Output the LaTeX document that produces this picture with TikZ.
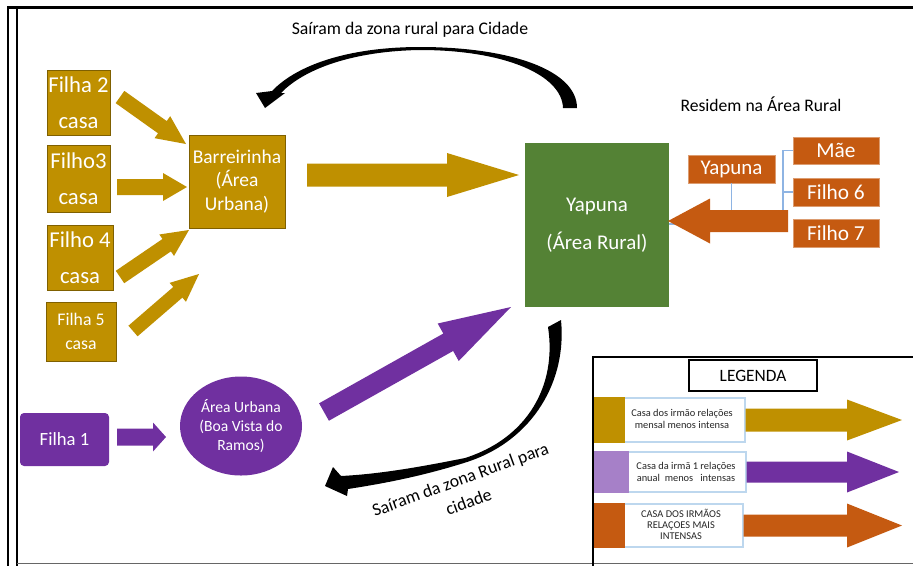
\documentclass[tikz,border=0pt]{standalone}
\usepackage{fontspec}
\setmainfont{Carlito}
\usetikzlibrary{calc,shapes.geometric}
\definecolor{gold}{HTML}{BF9000}
\definecolor{golddark}{HTML}{7F6000}
\definecolor{grn}{HTML}{548235}
\definecolor{org}{HTML}{C55A11}
\definecolor{purp}{HTML}{7030A0}
\definecolor{lpurp}{HTML}{A680C8}
\definecolor{lblue}{HTML}{8EB4E3}
\definecolor{lblue2}{HTML}{BDD7EE}
% fat block arrow: tail, tip, half shaft, half head, head length (px), colour
\newcommand{\fatarrow}[6]{%
  \path ($(#2)!#5*0.75pt!(#1)$) coordinate (hb);
  \fill[#6] ($(#1)!#3*0.75pt!90:(#2)$) -- ($(hb)!#3*0.75pt!90:(#2)$) -- ($(hb)!#4*0.75pt!90:(#2)$) -- (#2)
    -- ($(hb)!#4*0.75pt!-90:(#2)$) -- ($(hb)!#3*0.75pt!-90:(#2)$) -- ($(#1)!#3*0.75pt!-90:(#2)$) -- cycle;
}
\begin{document}
\begin{tikzpicture}[x=0.75pt,y=-0.75pt,
  sz/.style 2 args={minimum width=#1*0.75pt, minimum height=#2*0.75pt},
  goldbox/.style={draw=golddark, line width=0.6pt, fill=gold, text=white, inner sep=0pt, align=center},
  orgbox/.style={draw=org!60, line width=0.6pt, fill=org, text=white, inner sep=0pt, align=center},
  lgrow/.style={draw=lblue2, line width=0.8pt, fill=white, inner sep=0pt},
  lgtxt/.style={align=center, inner sep=0pt, font=\fontsize{7.8}{9}\selectfont, text=black!85},
  orgline/.style={draw=lblue, line width=0.8pt}
]
\useasboundingbox (0,0) rectangle (913,565);
\clip (0,0) rectangle (913,565);

% frame
\draw[line width=2pt] (7,7.5) -- (913,7.5);
\draw[line width=1.6pt] (8,6.5) -- (8,566);
\draw[line width=1.2pt] (17,7.5) -- (17,566);
\draw[line width=1.2pt, black!60] (17,563.5) -- (913,563.5);

% curved black arrows
\fill[black] (577,108) .. controls (577,70) and (510,47) .. (420,47) .. controls (355,47) and (300,62) .. (272,91)
  -- (256,93) -- (265,108) -- (285,93) -- (281,93) .. controls (305,68) and (355,51) .. (420,50)
  .. controls (505,50) and (562,75) .. (563,108) -- cycle;
\fill[black] (561,320) .. controls (567,380) and (534,440) .. (467,462) .. controls (420,477) and (380,484) .. (348,489)
  -- (347,496) -- (325,486) -- (333,467) -- (341,476) .. controls (380,474) and (420,467) .. (465,458)
  .. controls (528,438) and (557,385) .. (548,327) -- cycle;

% labels
\node[font=\fontsize{13.3}{16}\selectfont] (lbltop) at (410,30) {Saíram da zona rural para Cidade};
\node[font=\fontsize{13.2}{16}\selectfont] (lblres) at (761,104) {Residem na Área Rural};
\node[rotate=20, align=center, font=\fontsize{13.3}{18}\selectfont] (lblbot) at (464.5,490.5) {Saíram da zona Rural para\\cidade};

% gold boxes
\node[goldbox, sz={63}{65}, font=\fontsize{17}{27}\selectfont] (f2) at (78.5,102.5) {Filha 2\\casa};
\node[goldbox, sz={63}{67}, font=\fontsize{17}{27}\selectfont] (f3) at (78.5,178.5) {Filho3\\casa};
\node[goldbox, sz={66}{65}, font=\fontsize{17}{27}\selectfont] (f4) at (80,257.5) {Filho 4\\casa};
\node[goldbox, sz={70}{59}, font=\fontsize{13.3}{18}\selectfont] (f5) at (81,331.5) {Filha 5\\casa};
\node[goldbox, sz={96}{93}, font=\fontsize{14.6}{17.5}\selectfont] (barr) at (237,181.5) {Barreirinha\\(Área\\Urbana)};

% green
\node[fill=grn, text=white, inner sep=0pt, align=center, sz={144}{164}, font=\fontsize{15.7}{28.5}\selectfont] (yapg) at (597,225) {Yapuna\\(Área Rural)};

% orange org chart
\node[orgbox, sz={87}{28}, font=\fontsize{15.7}{18}\selectfont] (yapo) at (731.5,169) {Yapuna};
\node[orgbox, sz={86}{27}, font=\fontsize{16}{18}\selectfont] (mae) at (836,150.5) {Mãe};
\node[orgbox, sz={86}{28}, font=\fontsize{16}{18}\selectfont] (f6) at (836,192) {Filho 6};
\node[orgbox, sz={86}{28}, font=\fontsize{16}{18}\selectfont] (f7) at (836,233) {Filho 7};
\coordinate (bus) at (783,224);
\draw[orgline] (yapo.south) -- (yapo.south |- bus);
\draw[orgline] (yapg.east |- bus) -- (bus);
\draw[orgline] (bus) |- (mae.west);
\draw[orgline] (bus |- f6.west) -- (f6.west);

% purple
\node[fill=purp, rounded corners=3pt, text=white, inner sep=0pt, sz={89}{53}, font=\fontsize{14}{17}\selectfont] (fil1) at (64.5,439.5) {Filha 1};
\node[ellipse, fill=purp, text=white, inner sep=0pt, align=center, sz={122}{99}, font=\fontsize{11.7}{14.3}\selectfont] (ell) at (241,426) {Área Urbana\\(Boa Vista do\\Ramos)};

% arrows
\coordinate (g1a) at (120,97);  \coordinate (g1b) at (186,144);
\coordinate (g2a) at (117,187); \coordinate (g2b) at (187,187);
\coordinate (g3a) at (120,277); \coordinate (g3b) at (189,230);
\coordinate (g4a) at (133,331); \coordinate (g4b) at (199,274);
\coordinate (gba) at (307,175); \coordinate (gbb) at (519,175);
\coordinate (p1a) at (117,437); \coordinate (p1b) at (166,437);
\coordinate (pba) at (324,412); \coordinate (pbb) at (511,307);
\coordinate (oa) at (788,221);  \coordinate (ob) at (668,221);
\fatarrow{g1a}{g1b}{7.5}{13.5}{29}{gold}
\fatarrow{g2a}{g2b}{8}{14}{24}{gold}
\fatarrow{g3a}{g3b}{7.5}{13}{27}{gold}
\fatarrow{g4a}{g4b}{7}{12.5}{28}{gold}
\fatarrow{gba}{gbb}{11.5}{22}{72}{gold}
\fatarrow{p1a}{p1b}{8.5}{14.5}{13}{purp}
\fatarrow{pba}{pbb}{10}{21.5}{72}{purp}
\fatarrow{oa}{ob}{11}{22.5}{42}{org}

% legend
\draw[line width=1.5pt] (593,357) rectangle (918,568);
\node[draw, line width=0.8pt, inner sep=0pt, sz={128}{31}, font=\fontsize{13}{15}\selectfont] (leg) at (753,375.5) {LEGENDA};
\node[lgrow, sz={150}{44}] (r1) at (670,420) {};
\node[lgrow, sz={151}{40}] (r2) at (670.5,472) {};
\node[lgrow, sz={148}{43}] (r3) at (669,525.5) {};
\fill[gold] (r1.north west) rectangle ($(r1.south west)+(31,0)$);
\fill[lpurp] (r2.north west) rectangle ($(r2.south west)+(35,0)$);
\fill[org] (r3.north west) rectangle ($(r3.south west)+(31,0)$);
\node[lgtxt] (t1) at (682,419) {Casa dos irmão relações\\mensal menos intensa};
\node[lgtxt] (t2) at (686,472) {Casa da irmã 1 relações\\anual~ menos~~ intensas};
\node[lgtxt, font=\fontsize{7.8}{8.3}\selectfont] (t3) at (681,524) {CASA DOS IRMÃOS\\RELAÇOES MAIS\\INTENSAS};
\coordinate (l1) at (902,420);
\coordinate (l2) at (899,472);
\coordinate (l3) at (902,525.5);
\fatarrow{r1.east}{l1}{11.5}{20.5}{55}{gold}
\fatarrow{r2.east}{l2}{10.5}{20.5}{52}{purp}
\fatarrow{r3.east}{l3}{11}{22}{55}{org}
\end{tikzpicture}
\end{document}
